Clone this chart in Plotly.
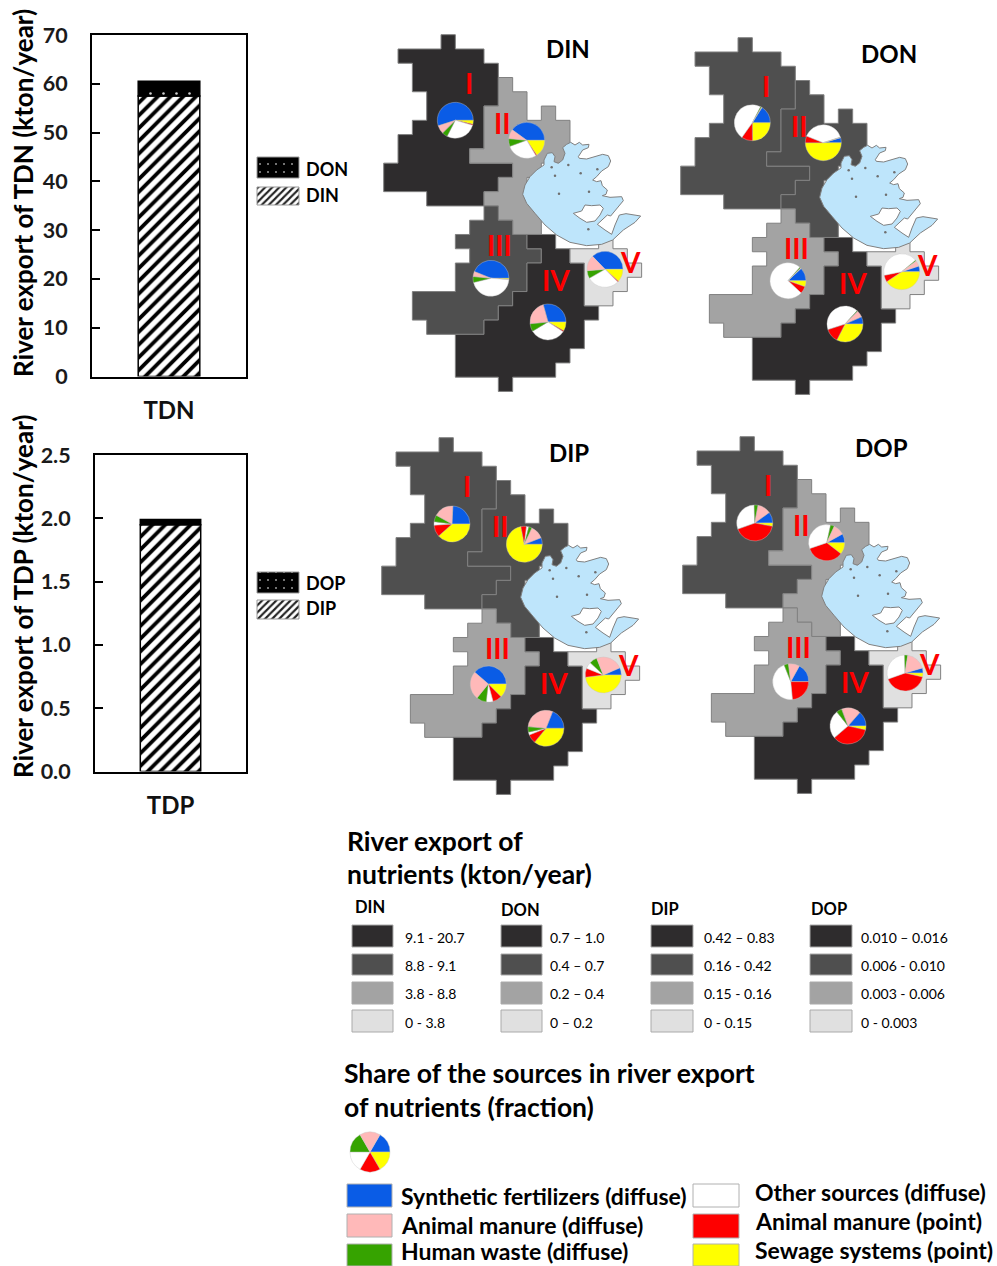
import plotly.graph_objects as go

# ---------- data ----------
TDN_PARTS = ["DIN", "DON"]
TDN_VALUES = [57.5, 3.0]
TDP_PARTS = ["DIP", "DOP"]
TDP_VALUES = [1.95, 0.04]
TDN_TICKS = [0, 10, 20, 30, 40, 50, 60, 70]
TDP_TICKS = [0.0, 0.5, 1.0, 1.5, 2.0, 2.5]

SOURCES = ["Synthetic fertilizers (diffuse)", "Sewage systems (point)", "Animal manure (point)",
           "Other sources (diffuse)", "Human waste (diffuse)", "Animal manure (diffuse)"]
# region rows I..V, columns in SOURCES order (%)
DIN_SHARES = [[55, 3.5, 1, 28, 5, 7.5], [40, 15.5, 1, 28, 7, 8.5], [44, 1, .3, 45, 5.5, 4.5],
              [29, 8, 1, 32, 7, 22], [37, 11.5, 1, 29, 7, 14]]
DON_SHARES = [[16, 25, 10, 48, 1, .5], [4.5, 50, 6, 39, .3, .2], [12, 5.5, 6.5, 74.5, 1, .5],
              [6.5, 32.5, 12.5, 41.7, .8, 6], [5, 40.5, 6, 42, 1, 5]]
DIP_SHARES = [[24, 38, 10.5, 3, 6, 17.5], [6, 72, 5, 2, 3, 12], [38.6, 12.5, 8.3, 6, 9, 25.5],
              [19, 36, 8, 2.5, 5, 29.5], [6.5, 48, 8, 6, 7, 24.5]]
DOP_SHARES = [[10, 3, 41.5, 30, 3.5, 12], [8, 10.5, 34, 33.5, 3.5, 10], [17, 0, 23.5, 45.5, 4, 10],
              [13.5, 3.5, 35, 25.5, 5, 17], [4.5, 3.5, 41, 30, 3, 18]]
LEGEND_SHARES = [1, 1, 1, 1, 1, 1]

REGIONS = ["I", "II", "III", "IV", "V"]
DIN_CLASS = [0, 2, 1, 0, 3]
DON_CLASS = [1, 1, 2, 0, 3]
DIP_CLASS = [1, 1, 2, 0, 3]
DOP_CLASS = [1, 2, 2, 0, 3]

DIN_BINS = ["9.1 - 20.7", "8.8 - 9.1", "3.8 - 8.8", "0 - 3.8"]
DON_BINS = ["0.7 – 1.0", "0.4 – 0.7", "0.2 – 0.4", "0 – 0.2"]
DIP_BINS = ["0.42 – 0.83", "0.16 - 0.42", "0.15 - 0.16", "0 - 0.15"]
DOP_BINS = ["0.010 – 0.016", "0.006 - 0.010", "0.003 - 0.006", "0 - 0.003"]

# region outlines on the map's grid (column, row)
REGION_I = [(4,0),(5,0),(5,1),(7,1),(7,2),(8,2),(8,5),(7,5),(7,8),(6,8),(6,9),(9,9),(9,10),(8,10),(8,11),(7,11),
            (7,12),(3,12),(3,11),(0,11),(0,9),(1,9),(1,7),(2,7),(2,6),(3,6),(3,4),(2,4),(2,2),(1,2),(1,1),(4,1)]
REGION_II = [(8,3),(9,3),(9,4),(10,4),(10,6),(11,6),(11,5),(12,5),(12,6),(13,6),(13,9),(11,9),(11,10),(10,10),(10,11),
             (11,11),(11,14),(9,14),(9,13),(8,13),(8,12),(7,12),(7,11),(8,11),(8,10),(9,10),(9,9),(6,9),(6,8),(7,8),(7,5),(8,5)]
REGION_III = [(7,12),(8,12),(8,13),(9,13),(9,14),(10,14),(10,15),(11,15),(11,16),(10,16),(10,18),(9,18),(9,19),(8,19),
              (8,20),(7,20),(7,21),(3,21),(3,20),(2,20),(2,18),(5,18),(5,16),(6,16),(6,15),(5,15),(5,14),(6,14),(6,13),(7,13)]
REGION_IV = [(10,14),(12,14),(12,15),(13,15),(13,16),(14,16),(14,19),(15,19),(15,20),(14,20),(14,22),(13,22),(13,23),
             (12,23),(12,24),(9,24),(9,25),(8,25),(8,24),(5,24),(5,21),(7,21),(7,20),(8,20),(8,19),(9,19),(9,18),(10,18),
             (10,16),(11,16),(11,15),(10,15)]
REGION_V = [(13,15),(15,15),(15,14),(16,14),(16,15),(17,15),(17,16),(18,16),(18,17),(17,17),(17,18),(16,18),(16,19),
            (14,19),(14,16),(13,16)]
# coastline, on a 3x trace of the lake area
LAKE_TRACE = [(8,178),(15,150),(30,125),(50,105),(72,90),(72,75),(82,55),(97,53),(105,65),(102,80),(115,85),(128,75),
              (135,55),(128,38),(140,28),(152,22),(165,30),(178,22),(188,30),(207,28),(205,38),(188,45),(175,65),(178,70),
              (200,72),(225,65),(248,58),(265,62),(272,78),(265,95),(245,108),(230,125),(218,135),(230,140),(243,137),
              (247,152),(262,165),(258,178),(247,182),(270,187),(305,185),(310,197),(295,215),(280,232),(272,243),(262,240),
              (232,268),(255,285),(275,298),(285,270),(298,240),(318,236),(362,243),(345,262),(310,285),(278,315),(245,328),
              (200,332),(150,322),(110,300),(75,270),(45,235),(20,205)]
ISLAND_TRACE = [(160,235),(185,228),(195,210),(215,212),(240,210),(250,220),(240,240),(225,258),(200,262),(180,250)]
ISLET_TRACE = [(105,122),(117,176),(182,115),(207,170),(145,90),(95,97),(205,283),(232,103)]

# ---------- layout constants ----------
W, H = 997, 1266
FONT = "Lato"
CLASS_COLORS = ["#2e2c2d", "#4f4f4f", "#a3a3a3", "#e0e0e0"]
SOURCE_COLORS = ["#0a5ce6", "#ffff00", "#fe0000", "#ffffff", "#36a300", "#ffb9b9"]
EDGE = "#808080"
CELL_X, CELL_Y = 14.33, 14.27

panels = [
    dict(name="DIN", ox=383.7, oy=34.7, title=(568, 48), shares=DIN_SHARES, classes=DIN_CLASS,
         pies=[(455.3, 120.3), (526.7, 140.3), (491, 278.3), (548, 322), (605, 269.3)]),
    dict(name="DON", ox=680.7, oy=37.7, title=(889, 53), shares=DON_SHARES, classes=DON_CLASS,
         pies=[(752.3, 122.7), (823.3, 142.7), (788, 280.7), (845, 324), (901.7, 271.7)]),
    dict(name="DIP", ox=381.7, oy=437.7, title=(569, 452), shares=DIP_SHARES, classes=DIP_CLASS,
         pies=[(452, 524), (524.3, 544.3), (488.3, 684), (546, 728.3), (603.3, 675)]),
    dict(name="DOP", ox=682.7, oy=436.7, title=(881, 447), shares=DOP_SHARES, classes=DOP_CLASS,
         pies=[(754.7, 523), (826.7, 542.7), (790.7, 681.7), (848, 726), (905, 673)]),
]
PIE_R = 18
LABEL_CELLS = [(5.98, 3.36), (8.28, 6.2), (8.05, 14.74), (12, 17.2), (17.2, 15.96)]
LAKE_OX, LAKE_OY = 520 - 383.7, 135 - 34.7

fig = go.Figure()
annotations = []


def note(x, y, text, size, bold=True, color="#000000", anchor="left", angle=0, family=FONT):
    label = f"<b>{text}</b>" if bold else text
    if anchor == "left":
        x -= 2
    annotations.append(dict(x=x, y=y, xref="x3", yref="y3", text=label, showarrow=False, xanchor=anchor,
                            yanchor="middle", textangle=angle, font=dict(family=family, size=size, color=color)))


def swatch(x0, x1, y0, y1, color, line="#999999", pattern=None, lw=1):
    marker = dict(color=color, opacity=1, line=dict(color=line, width=lw))
    if pattern:
        marker["pattern"] = pattern
    fig.add_trace(go.Bar(x=[(x0 + x1) / 2], width=[x1 - x0], base=[y0], y=[y1 - y0], marker=marker,
                         xaxis="x3", yaxis="y3", showlegend=False, hoverinfo="skip"))


def poly(points, fill, line=EDGE, lw=1):
    xs = [p[0] for p in points] + [points[0][0]]
    ys = [p[1] for p in points] + [points[0][1]]
    fig.add_trace(go.Scatter(x=xs, y=ys, mode="lines", fill="toself", fillcolor=fill, line=dict(color=line, width=lw),
                             xaxis="x3", yaxis="y3", showlegend=False, hoverinfo="skip"))


def pie(values, cx, cy, r):
    rotation = 90 - 360 * values[0] / sum(values)
    fig.add_trace(go.Pie(values=values, labels=SOURCES, sort=False, direction="clockwise", rotation=rotation,
                         marker=dict(colors=SOURCE_COLORS, line=dict(color="#c4c4c4", width=0.4)),
                         textinfo="none", showlegend=False, hoverinfo="skip",
                         domain=dict(x=[(cx - r) / W, (cx + r) / W], y=[1 - (cy + r) / H, 1 - (cy - r) / H])))


# ---------- bar charts ----------
HATCH_BAR = dict(shape="/", size=9, solidity=0.42, fgcolor="#000000", bgcolor="#ffffff", fgopacity=1)
DOTS_BAR = dict(shape=".", size=13, solidity=0.03, fgcolor="#d0d0d0", bgcolor="#000000", fgopacity=1)
HATCH_KEY = dict(shape="/", size=5, solidity=0.42, fgcolor="#222222", bgcolor="#ffffff", fgopacity=1)
DOTS_KEY = dict(shape=".", size=8, solidity=0.05, fgcolor="#9a9a9a", bgcolor="#000000", fgopacity=1)

for cat, parts, values, xa, ya in [("TDN", TDN_PARTS, TDN_VALUES, "x", "y"), ("TDP", TDP_PARTS, TDP_VALUES, "x2", "y2")]:
    fig.add_trace(go.Bar(x=[cat], y=[values[0]], base=[0], name=parts[0], width=0.4, xaxis=xa, yaxis=ya, showlegend=False,
                         marker=dict(color="#ffffff", opacity=1, pattern=HATCH_BAR, line=dict(color="#000000", width=1.5))))
    fig.add_trace(go.Bar(x=[cat], y=[values[1]], base=[values[0]], name=parts[1], width=0.4, xaxis=xa, yaxis=ya, showlegend=False,
                         marker=dict(color="#000000", opacity=1, pattern=DOTS_BAR, line=dict(color="#000000", width=1.5))))

swatch(257, 299, 157, 178, "#000000", pattern=DOTS_KEY)
swatch(257, 299, 187, 205, "#ffffff", pattern=HATCH_KEY)
swatch(257, 299, 572, 593, "#000000", pattern=DOTS_KEY)
swatch(257, 299, 600, 619, "#ffffff", pattern=HATCH_KEY)
note(306, 169, TDN_PARTS[1], 18)
note(306, 195, TDN_PARTS[0], 18)
note(306, 583, TDP_PARTS[1], 18)
note(306, 608, TDP_PARTS[0], 18)
note(23, 193, "River export of TDN (kton/year)", 26, anchor="center", angle=-90)
note(23, 596, "River export of TDP (kton/year)", 26, anchor="center", angle=-90)

# ---------- maps ----------
regions_grid = [REGION_I, REGION_II, REGION_III, REGION_IV, REGION_V]
for p in panels:
    ox, oy = p["ox"], p["oy"]
    for grid, cls in zip(regions_grid, p["classes"]):
        poly([(ox + c * CELL_X, oy + r * CELL_Y) for c, r in grid], CLASS_COLORS[cls])
    poly([(ox + LAKE_OX + x / 3, oy + LAKE_OY + y / 3) for x, y in LAKE_TRACE], "#bee5fb")
    poly([(ox + LAKE_OX + x / 3, oy + LAKE_OY + y / 3) for x, y in ISLAND_TRACE], "#ffffff")
    fig.add_trace(go.Scatter(x=[ox + LAKE_OX + x / 3 for x, y in ISLET_TRACE], y=[oy + LAKE_OY + y / 3 for x, y in ISLET_TRACE],
                             mode="markers", marker=dict(size=2.5, color="#6f6f6f"), xaxis="x3", yaxis="y3",
                             showlegend=False, hoverinfo="skip"))
    for name, shares, (cx, cy), (lc, lr) in zip(REGIONS, p["shares"], p["pies"], LABEL_CELLS):
        pie(shares, cx, cy, PIE_R)
        note(ox + lc * CELL_X, oy + lr * CELL_Y, name, 28, color="#fe0000", anchor="center")
    note(p["title"][0], p["title"][1], p["name"], 24, anchor="center")

# ---------- map legend ----------
note(347, 841, "River export of", 26.5)
note(347, 874, "nutrients (kton/year)", 26.5)
BIN_ROWS = [(925, 947, 937), (954, 975, 965), (982, 1004, 993), (1010, 1032, 1022)]
for name, bins, head_x, head_y, x0, x1, lx in [("DIN", DIN_BINS, 355, 907, 352, 393, 405), ("DON", DON_BINS, 501, 910, 501, 542, 550),
                                               ("DIP", DIP_BINS, 651, 909, 651, 693, 704), ("DOP", DOP_BINS, 811, 909, 810, 852, 861)]:
    note(head_x, head_y, name, 16.5)
    for label, color, (y0, y1, ly) in zip(bins, CLASS_COLORS, BIN_ROWS):
        swatch(x0, x1, y0, y1, color, line="#aaaaaa")
        note(lx, ly, label, 14, bold=False)

note(344, 1073, "Share of the sources in river export", 26.5)
note(344, 1107, "of nutrients (fraction)", 26.5)
pie(LEGEND_SHARES, 370, 1152, 20)

KEY_ROWS_L = [(1184, 1207, 1196, 0), (1214, 1237, 1225, 5), (1244, 1266, 1251, 4)]
KEY_ROWS_R = [(1184, 1207, 1192, 3), (1214, 1238, 1221, 2), (1244, 1266, 1250, 1)]
for x0, x1, lx, rows in [(347, 392, 401, KEY_ROWS_L), (693, 739, 755, KEY_ROWS_R)]:
    for y0, y1, ly, i in rows:
        swatch(x0, x1, y0, y1, SOURCE_COLORS[i], line="#b0b0b0")
        note(lx, ly, SOURCES[i], 23)

# ---------- layout ----------
def value_axis(domain, rng, ticks, fmt):
    return dict(domain=domain, range=rng, tickvals=ticks, tickformat=fmt, ticks="inside", ticklen=8, tickwidth=1.5,
                tickcolor="#000000", showline=True, linecolor="#000000", linewidth=2, mirror=True, showgrid=False,
                zeroline=False, ticklabelstandoff=18, tickfont=dict(family=FONT, size=21.5, color="#1a1a1a", weight="bold"))


def cat_axis(domain, anchor):
    return dict(domain=domain, anchor=anchor, type="category", range=[-0.5, 0.5], ticks="", showline=True,
                linecolor="#000000", linewidth=2, mirror=True, showgrid=False, ticklabelstandoff=12,
                tickfont=dict(family=FONT, size=24, color="#111111", weight="bold"))


fig.update_layout(
    width=W, height=H, margin=dict(l=0, r=0, t=0, b=0, pad=0, autoexpand=False), autosize=False,
    paper_bgcolor="#ffffff", plot_bgcolor="rgba(0,0,0,0)",
    barmode="overlay", showlegend=False, annotations=annotations,
    xaxis=cat_axis([92 / W, 246 / W], "y"),
    yaxis=dict(value_axis([1 - 376.5 / H, 1 - 35 / H], [0, 70], TDN_TICKS, "d"), anchor="x"),
    xaxis2=cat_axis([95 / W, 246 / W], "y2"),
    yaxis2=dict(value_axis([1 - 771.5 / H, 1 - 455 / H], [0, 2.5], TDP_TICKS, ".1f"), anchor="x2"),
    xaxis3=dict(domain=[0, 1], range=[0, W], visible=False, anchor="y3", fixedrange=True),
    yaxis3=dict(domain=[0, 1], range=[H, 0], visible=False, anchor="x3", fixedrange=True),
)

fig.write_html("out.html", config=dict(displayModeBar=False), post_script="document.body.style.margin='0';")
